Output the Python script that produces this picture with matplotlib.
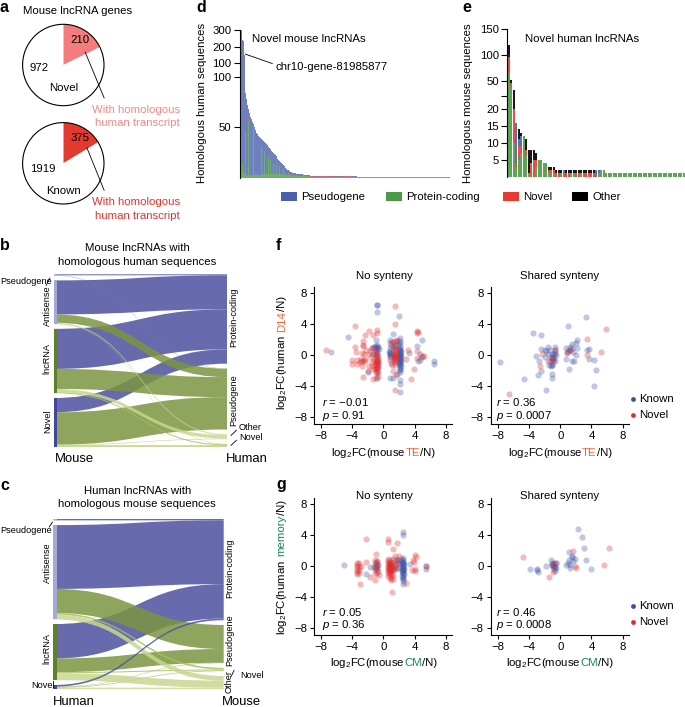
#! python3
# plot.py - lncRNA homology figure, panels a to g

import numpy as np
import matplotlib
matplotlib.use('Agg')
import matplotlib.pyplot as plt
from matplotlib.patches import Circle, PathPatch, Rectangle
from matplotlib.path import Path

plt.rcParams['font.family'] = ['Liberation Sans', 'DejaVu Sans']
plt.rcParams['mathtext.fontset'] = 'custom'
plt.rcParams['mathtext.rm'] = 'Liberation Sans'
plt.rcParams['mathtext.it'] = 'Liberation Sans:italic'
plt.rcParams['mathtext.default'] = 'regular'
plt.rcParams['axes.linewidth'] = 0.8

W, H = 685, 707
FS = 8.2  # main text size

BLUE = '#4a60ad'
GREEN = '#4c9a45'
RED = '#e63b2e'
ORANGE = '#f0653a'
TEAL = '#17875a'

# Panel a
novel_genes = [210, 972]
known_genes = [375, 1919]

# Panel d: bar heights per novel mouse lncRNA
d_total = [300, 300, 240, 236, 150, 84, 78, 72, 68, 64, 60, 58, 55, 53, 50, 47, 44, 43, 41, 40,
           39, 38, 37, 36, 35, 34, 33, 32, 30, 29, 28, 26, 25, 24, 23, 22, 21, 19, 18, 17,
           16, 15, 14, 13, 12, 10, 9, 8, 8, 7, 6, 6, 5, 5, 5, 5, 4, 4, 4, 4,
           4, 4, 4, 3, 3, 3, 3, 3, 3, 3] + [2] * 47 + [1] * 93
d_protein = [20, 8, 14, 5, 5, 45, 3, 3, 55, 3, 3, 3, 3, 50, 3, 4, 3, 3, 3, 3,
             3, 30, 4, 4, 26, 4, 4, 4, 20, 4, 18, 4, 4, 14, 4, 4, 13, 4, 4, 12,
             4, 4, 4, 9, 4, 4, 3, 3, 5, 3, 3, 3, 2, 2, 3, 2, 2, 3, 2, 2,
             2, 2, 2, 1, 2, 1, 2, 1, 2, 1] + [1] * 47 + [1] * 93
d_novel = [0, 0, 0, 0, 0, 0, 0, 0, 3, 0, 0, 0, 0, 0, 0, 0, 0, 0, 0, 0,
           0, 0, 0, 0, 0, 1, 0, 0, 0, 0, 0, 0, 1, 0, 0, 0, 0, 0, 0, 0,
           0, 0, 0, 0, 0, 0, 0, 0, 0, 0, 1, 0, 0, 1, 0, 0, 1, 0, 0, 0,
           1, 0, 1, 1, 0, 1, 0, 1, 0, 1,
           1, 0, 1, 1, 0, 1, 0, 0, 1, 0, 1, 1, 0, 0, 1, 0, 1, 1, 0, 0, 1, 0, 0, 1,
           1, 0, 0, 1, 0, 0, 1, 1, 0, 0, 1, 0, 1, 1, 0, 1, 1, 0, 0, 0, 0, 0, 0] + [0] * 93
d_other = [280] + [0] * 209

# Panel e: bar segments per novel human lncRNA
e_protein = [65, 38, 10, 3, 5, 7, 12, 6, 1, 0, 0, 3, 5, 5, 4, 4, 1, 1, 1,
             0, 0, 1, 0, 0, 0, 1, 1, 0, 0, 1, 0, 0, 0, 0, 0, 0, 1, 2, 2] + [1] * 32
e_novel = [30, 7, 10, 1, 4, 2, 0, 2, 0, 4, 5, 2, 0, 0, 0, 0, 1, 1, 1,
           1, 1, 0, 1, 1, 1, 0, 0, 1, 1, 0, 1, 1, 1, 1, 1, 0, 0, 0, 0] + [0] * 32
e_pseudo = [0, 0, 0, 12, 2, 3, 0, 0, 0, 0, 0, 0, 0, 0, 0, 0, 0, 0, 0,
            0, 0, 0, 1, 0, 0, 0, 0, 0, 0, 0, 0, 0, 0, 0, 0, 2, 1, 0, 0] + [0] * 32
e_other = [23, 7, 11, 0, 3, 1, 0, 3, 7, 4, 3, 2, 0, 0, 0, 0, 1, 1, 1,
           1, 1, 1, 0, 1, 1, 1, 1, 1, 1, 1, 1, 1, 1, 1, 1, 0, 0, 0, 0] + [0] * 32

# Panels b and c: flow sizes, rows are source groups and columns target groups
b_sources = ['Pseudogene', 'Antisense', 'lncRNA', 'Novel']
b_targets = ['Protein-coding', 'Pseudogene', 'Other', 'Novel']
b_flows = [[3, 1, 0, 0],
           [102, 25, 3, 1],
           [120, 60, 10, 3],
           [43, 97, 2, 4]]
c_sources = ['Pseudogene', 'Antisense', 'lncRNA', 'Novel']
c_targets = ['Protein-coding', 'Pseudogene', 'Novel', 'Other']
c_flows = [[4, 0, 0, 0],
           [191, 72, 5, 14],
           [103, 41, 3, 21],
           [5, 1, 2, 4]]

# Panel f, no synteny
f_ns_known = np.array([
    [-0.8, 6.4], [-0.8, 6.4], [-0.8, 5.6], [2.0, 5.0], [-4.6, 2.3], [-6.7, 0.4], [6.5, -0.7], [6.5, -1.1],
    [4.9, 2.0], [4.3, 1.2], [4.7, 0.1], [4.7, -0.6], [1.3, 2.7], [2.1, 2.2], [2.1, 1.8], [0.8, 1.9],
    [1.1, 1.7], [-0.9, 1.9], [-0.8, 1.3], [-0.8, 1.1], [-0.9, 0.9], [-0.7, 1.0], [-1.2, 1.0], [-1.5, 0.9],
    [-1.0, -2.9], [-2.0, -2.2], [0.9, -2.9], [1.3, -2.9], [2.1, -3.2], [2.1, -3.7], [2.1, -4.7], [1.7, -2.4],
    [3.3, 0.3], [2.1, 1.5], [2.1, 1.2], [2.1, 0.9], [2.1, 0.7], [2.1, 0.5], [2.1, 0.3], [2.1, 0.1],
    [2.1, -0.1], [2.1, -0.3], [2.1, -0.5], [2.1, -0.7], [2.1, -0.9], [2.1, -1.1], [2.1, -1.3], [2.1, -1.6],
    [2.1, -1.9], [2.1, -2.2], [2.2, 0.4], [2.2, -0.2], [2.2, -0.8], [2.0, 0.2], [2.0, -0.4], [2.0, -1.0],
    [2.15, 0.6], [2.15, 0.0], [2.15, -0.6], [2.05, 0.8], [2.05, -0.2], [2.05, -1.2], [2.1, -1.8], [2.2, -1.4],
    [0.8, 0.5], [0.8, 0.3], [0.8, 0.1], [0.8, -0.1], [0.7, 0.4], [1.0, 0.2], [0.9, -0.3], [1.2, 1.0],
    [1.5, 1.2], [1.0, 1.3], [1.4, -0.5], [1.1, -1.3], [-0.8, 0.6], [-0.8, 0.3], [-0.8, 0.0], [-0.8, -0.4],
    [-0.8, -0.9], [-0.8, -1.5], [-1.0, 0.4], [-1.3, 0.2], [-0.7, -2.2], [-0.6, 0.8], [-1.1, 1.2], [4.4, -0.7],
    [5.0, -0.2], [1.7, 1.8], [1.9, 1.4], [0.9, 0.9]])
f_ns_novel = np.array([
    [-7.4, 0.6], [-3.7, 3.8], [-2.4, 2.6], [-1.9, 3.05], [-0.85, 3.2], [-0.85, 2.85], [1.55, 6.35], [1.55, 4.0],
    [4.35, 3.05], [4.35, 2.85], [-3.7, 1.0], [-2.65, 1.2], [-2.65, 1.35], [-2.65, 1.85], [3.6, -3.1], [3.9, -1.75],
    [1.55, -4.45], [-2.65, -2.85], [-1.3, -3.05], [-0.8, -2.9], [3.2, 0.7], [2.85, -0.45], [4.35, 0.5], [4.3, -0.4],
    [4.9, -0.1], [5.25, -0.1], [-4.0, -0.6], [-3.4, -0.6], [-4.0, -1.1], [-3.4, -1.1], [-3.5, 0.4], [-2.7, -0.7],
    [-2.35, -0.7], [-2.7, -1.4], [-2.0, -2.1], [-2.6, -0.8], [-2.4, -0.5], [-2.7, 0.3], [-2.2, 0.7], [-1.9, 0.2],
    [-1.7, 0.5], [-1.6, -0.3], [-1.5, -0.9], [-1.4, -1.4], [-1.3, -1.8], [-1.2, 0.1], [-1.2, -0.6], [-1.1, -1.1],
    [-1.1, -1.6], [-1.0, -2.3], [-1.0, 0.7], [-0.9, 0.2], [-0.9, -0.3], [-0.9, -0.8], [-0.9, -1.3], [-0.8, -1.8],
    [-0.8, -2.2], [-0.7, -0.1], [-0.7, -0.6], [-0.7, -1.0], [-0.7, -1.5], [-0.7, -2.7], [-1.5, 0.9], [-1.9, -1.4],
    [-0.85, -0.5], [-0.85, -1.0], [-0.85, -1.6], [-0.75, -1.3], [-0.75, -0.8], [-1.0, -0.9], [-1.0, -1.9],
    [1.5, 1.8], [1.5, 1.3], [1.5, 0.9], [1.5, 0.6], [1.5, 0.3], [1.5, 0.0], [1.5, -0.3], [1.5, -0.6],
    [1.5, -0.9], [1.5, -1.3], [1.6, 0.8], [1.6, 0.2], [1.6, -0.4], [1.4, 0.5], [1.4, -0.1], [1.4, -0.7],
    [1.55, -0.1], [1.55, -0.5], [1.45, 0.1], [1.45, -0.3], [1.2, 1.7], [1.3, -2.1], [1.6, -2.5], [0.9, 1.5],
    [1.0, -1.0], [1.8, 1.9], [4.4, 3.0], [0.8, -0.6], [-3.0, -0.9], [-2.9, -0.5], [-1.3, 2.6], [-2.5, 0.1]])

# Panel f, shared synteny
f_ss_known = np.array([
    [-7.7, -0.9], [-4.6, -3.1], [-3.5, 2.8], [-2.5, 2.6], [-2.8, -2.5], [-2.5, -2.0], [-2.7, -0.8], [-3.1, -0.1],
    [-2.4, 0.8], [-1.8, -4.5], [-1.1, -2.4], [-1.0, -3.0], [-1.45, -1.3], [-1.1, -1.3], [-1.2, -1.4], [-2.0, 0.6],
    [-1.8, 0.5], [-1.6, 1.0], [-1.5, 0.2], [-1.3, 0.6], [-1.2, -0.2], [-1.1, 0.1], [-1.0, -0.5], [-0.9, -0.1],
    [-0.8, 0.2], [-0.7, 1.0], [-0.7, 0.7], [-0.7, -0.7], [-0.6, 0.0], [-2.0, -0.2], [-1.3, -0.8], [-0.9, -0.8],
    [1.0, 3.8], [3.3, 4.9], [2.2, 1.9], [2.0, 1.5], [1.5, 1.4], [2.2, 0.9], [1.3, 1.0], [0.8, 0.9],
    [1.0, 0.5], [1.6, 0.4], [2.0, 0.0], [0.7, -0.55], [1.5, -0.7], [1.75, -0.7], [1.15, -1.75], [3.4, 0.7],
    [3.65, 0.8], [3.65, -0.5], [4.3, -0.65], [4.6, -1.9], [4.3, -4.0], [0.9, 0.3], [1.2, 0.7], [1.5, 0.9],
    [-1.0, -1.3], [-0.8, -0.4], [-0.7, 0.3]])
f_ss_novel = np.array([
    [-6.55, -5.0], [5.8, 3.3], [3.45, 2.1], [5.2, 0.35], [3.4, 0.0], [-2.65, -1.35], [-2.3, 0.1], [-1.5, -0.8],
    [-0.7, 0.65], [-1.0, -0.4], [0.9, 0.4], [1.2, 0.65], [-0.9, -0.6]])

# Panel g, no synteny
g_ns_known = np.array([
    [-5.1, 0.15], [2.5, 4.3], [2.5, 4.0], [-2.25, -1.0], [3.4, 0.25], [5.45, 0.0], [5.45, -0.45], [-1.7, -0.2],
    [-0.65, 0.15], [-0.65, -0.7], [1.7, 0.8], [1.3, 0.9], [1.85, -0.25], [-1.0, 0.4], [-1.0, 0.0], [-1.0, -0.4],
    [-1.2, -0.1], [2.5, 1.0], [2.5, 0.7], [2.5, 0.5], [2.5, 0.3], [2.5, 0.1], [2.5, -0.1], [2.5, -0.3],
    [2.5, -0.5], [2.5, -0.7], [2.5, -0.9], [2.5, -1.1], [2.5, -1.4], [2.5, -1.7], [2.5, -2.0], [2.5, -2.3],
    [2.6, 0.2], [2.6, -0.4], [2.4, 0.4], [2.4, -0.2], [2.4, -0.8], [2.6, -1.0], [2.55, 0.0], [2.55, -0.6],
    [2.45, 0.6], [2.45, 0.2], [2.45, -0.5], [2.45, -1.3], [2.55, -1.6], [1.9, 0.3], [1.6, 0.1],
    [1.5, -0.4], [0.9, 0.2], [1.1, -0.3], [-0.8, 0.5], [-0.8, -0.2], [1.9, 0.8], [2.3, 0.9]])
g_ns_novel = np.array([
    [-2.2, 3.5], [0.65, 3.45], [0.65, 3.1], [1.8, 2.9], [1.3, 2.2], [-1.0, 1.5], [-2.2, 0.45], [-3.05, -2.3],
    [-1.65, -1.45], [-1.05, -1.8], [1.1, -3.4], [2.85, -2.15], [4.05, 1.4], [4.15, 1.1], [3.8, 0.8], [3.95, 0.55],
    [4.05, -0.4], [4.05, -0.7], [3.7, -0.5], [5.45, 0.0], [-3.4, 0.4], [-3.4, 0.1], [-3.4, -0.2], [-3.4, -0.5],
    [-3.4, -0.8], [-3.4, -1.0], [-3.1, 0.3], [-3.1, -0.1], [-3.1, -0.5], [-3.1, -0.9], [-1.1, 0.7], [-1.1, 0.3],
    [-1.1, -0.1], [-1.1, -0.5], [-1.1, -1.1], [-0.8, 0.6], [-0.8, 0.1], [-0.8, -0.4], [-0.8, -0.9], [-0.6, -1.2],
    [0.6, 0.9], [0.6, 0.6], [0.6, 0.3], [0.6, 0.0], [0.6, -0.3], [0.6, -0.6], [0.6, -0.9], [0.6, -1.3],
    [0.8, 0.7], [0.8, 0.4], [0.8, 0.1], [0.8, -0.2], [0.8, -0.5], [0.8, -0.8], [0.8, -1.1], [0.8, -1.6],
    [1.0, 0.5], [1.0, 0.2], [1.0, -0.1], [1.0, -0.4], [1.0, -0.7], [1.0, -1.0], [1.0, -1.4], [1.0, -1.8],
    [0.9, 0.0], [0.9, -0.3], [0.9, -0.6], [0.7, 0.2], [0.7, -0.2], [0.7, -0.7], [1.1, 0.1], [1.1, -0.5],
    [1.2, 0.3], [1.2, 0.0], [1.2, -0.3], [1.2, -0.6], [1.2, -1.2], [1.2, -1.7], [1.5, 1.2], [1.7, 0.3],
    [1.7, -0.3], [2.0, 1.2], [1.6, 0.7], [-2.9, 0.0]])

# Panel g, shared synteny
g_ss_known = np.array([
    [2.25, 4.75], [2.8, 3.75], [3.0, 2.35], [1.1, 1.8], [3.25, 0.7], [3.9, -0.4], [-3.85, -0.4], [-2.95, -0.4],
    [-2.95, -0.55], [-2.85, -0.75], [-1.85, 0.0], [-1.15, 0.75], [-1.0, 0.4], [-0.9, 0.2], [-0.8, 0.0], [-0.7, -0.2],
    [-0.8, -0.4], [-0.7, -0.7], [-1.1, 0.1], [-0.9, -0.2], [-0.6, 0.3], [-0.6, -0.3], [1.45, 1.3], [1.5, 1.15],
    [1.95, 0.9], [1.65, 0.6], [1.1, 0.7], [1.0, 0.4], [0.7, 0.15], [1.3, 0.15], [1.25, -0.25], [-0.8, 0.3]])
g_ss_novel = np.array([
    [-4.75, 1.1], [6.2, 2.35], [5.55, 0.1], [1.6, 1.95], [-1.45, -1.5], [-0.95, -0.75], [-0.6, 0.3], [-1.1, 0.15],
    [1.85, 0.0], [2.05, -0.25]])

fig = plt.figure(figsize=(W / 100, H / 100), dpi=100)


def make_ax(left, top, right, bottom):
    # Axes from positions given in pixels from the top left corner
    return fig.add_axes([left / W, 1 - bottom / H, (right - left) / W, (bottom - top) / H])


# Overlay for free text, in pixels from the top left corner
over = fig.add_axes([0, 0, 1, 1], zorder=10)
over.set_xlim(0, W)
over.set_ylim(H, 0)
over.axis('off')
over.patch.set_alpha(0)
renderer = fig.canvas.get_renderer()


def label(x, y, s, size=FS, color='black', ha='left', rotation=0, weight='normal'):
    return over.text(x, y, s, fontsize=size, color=color, ha=ha, va='center',
                     rotation=rotation, rotation_mode='anchor', fontweight=weight)


def line(x0, y0, x1, y1):
    over.plot([x0, x1], [y0, y1], color='black', lw=0.6, solid_capstyle='butt')


def multi_label(x, y, parts, rotation=0):
    # Text in several colours, centred on x, y. Trailing spaces of the first part are
    # measured differently when turned, so the space after it is corrected by hand
    first_gap = 2.4 if rotation == 90 else -0.6
    widths = []
    for s, c in parts:
        t = over.text(0, 0, s, fontsize=FS)
        widths.append(t.get_window_extent(renderer).width)
        t.remove()
    pos = -(sum(widths) + first_gap) / 2
    for k, ((s, c), w) in enumerate(zip(parts, widths)):
        if rotation == 90:
            over.text(x + 3, y - pos, s, fontsize=FS, color=c, rotation=90, ha='left', va='baseline',
                      rotation_mode='anchor')
        else:
            over.text(x + pos, y, s, fontsize=FS, color=c, ha='left', va='baseline')
        pos += w + (first_gap if k == 0 else 0)


# Panel a
def draw_pie(cx, cy, r, values, color):
    ax = make_ax(cx - r, cy - r, cx + r, cy + r)
    ax.pie(values, colors=[color, 'white'], startangle=90, counterclock=False, radius=1)
    ax.set_xlim(-1, 1)
    ax.set_ylim(-1, 1)
    ax.add_patch(Circle((0, 0), 1, fill=False, ec='black', lw=0.8, clip_on=False))


draw_pie(63.3, 65, 40.7, novel_genes, '#f47c7c')
draw_pie(63.3, 163.3, 40.7, known_genes, '#e23a2e')

label(22.7, 10.7, 'Mouse lncRNA genes')
label(80, 40, str(novel_genes[0]), ha='center')
label(39, 67.7, str(novel_genes[1]), ha='center')
label(63.3, 87.7, 'Novel', ha='center')
label(80, 138.3, str(known_genes[0]), ha='center')
label(42.7, 169.3, str(known_genes[1]), ha='center')
label(63.3, 191, 'Known', ha='center')
line(85, 51.7, 104.3, 98.3)
line(86.7, 147.3, 104.3, 190.7)
label(180, 110, 'With homologous', color='#f28a85', ha='right')
label(180, 123.3, 'human transcript', color='#f28a85', ha='right')
label(180, 202.3, 'With homologous', color='#e5332a', ha='right')
label(180, 216, 'human transcript', color='#e5332a', ha='right')


# Panels b and c
def draw_sankey(ax, flows, node_colors, flow_colors, on_top=None):
    flows = np.array(flows, dtype=float)
    n_rows, n_cols = flows.shape
    gap = 14.3
    total = flows.sum() + gap * (n_rows - 1)
    total_r = flows.sum() + gap * (n_cols - 1)
    ax.set_xlim(0, 1)
    ax.set_ylim(max(total, total_r), 0)
    ax.axis('off')

    # Node tops on each side
    left_tops = np.concatenate([[0], np.cumsum(flows.sum(axis=1) + gap)[:-1]])
    right_tops = np.concatenate([[0], np.cumsum(flows.sum(axis=0) + gap)[:-1]])
    left_start = np.array([[left_tops[i] + flows[i, :j].sum() for j in range(n_cols)] for i in range(n_rows)])
    right_start = np.array([[right_tops[j] + flows[:i, j].sum() for j in range(n_cols)] for i in range(n_rows)])

    def ribbon(i, j, z):
        h = flows[i, j]
        if h == 0:
            return
        y0, y1 = left_start[i, j], right_start[i, j]
        verts = [(0, y0), (0.5, y0), (0.5, y1), (1, y1), (1, y1 + h),
                 (0.5, y1 + h), (0.5, y0 + h), (0, y0 + h), (0, y0)]
        codes = [Path.MOVETO, Path.CURVE4, Path.CURVE4, Path.CURVE4, Path.LINETO,
                 Path.CURVE4, Path.CURVE4, Path.CURVE4, Path.CLOSEPOLY]
        ax.add_patch(PathPatch(Path(verts, codes), fc=flow_colors[j], ec='none', alpha=0.85, zorder=z))

    for j in range(n_cols):
        for i in range(n_rows):
            ribbon(i, j, 4 if on_top == (i, j) else 2)
    for i in range(n_rows):
        ax.add_patch(Rectangle((0, left_tops[i]), 0.02, flows[i].sum(), fc=node_colors[i], ec='none', zorder=5))


sankey_blue = '#4c51a0'
sankey_olive = '#7b9441'
sankey_pale = '#c8d68f'
sankey_lime = '#a5c253'
node_colors = ['#b3b3dd', '#a8a8d8', '#5e7f2c', '#44459c']

ax_b = make_ax(54, 274.3, 227, 446.7)
draw_sankey(ax_b, b_flows, node_colors, [sankey_blue, sankey_olive, sankey_pale, sankey_lime])
ax_c = make_ax(53.3, 519, 223.7, 689)
draw_sankey(ax_c, c_flows, node_colors, [sankey_blue, sankey_olive, sankey_lime, sankey_pale], on_top=(3, 0))

SMALL = 6.6
label(137.3, 248.3, 'Mouse lncRNAs with', ha='center')
label(137.3, 261.7, 'homologous human sequences', ha='center')
label(0, 282, b_sources[0], size=SMALL)
line(46, 285.7, 50, 277.7)
label(47.3, 306, b_sources[1], size=SMALL, ha='center', rotation=90)
label(47.3, 358, b_sources[2], size=SMALL, ha='center', rotation=90)
label(47.3, 420.7, b_sources[3], size=SMALL, ha='center', rotation=90)
label(233.3, 317.7, b_targets[0], size=SMALL, ha='center', rotation=90)
label(233.3, 400, b_targets[1], size=SMALL, ha='center', rotation=90)
label(239, 427, b_targets[2], size=SMALL)
label(239, 437, b_targets[3], size=SMALL)
line(230.7, 435.7, 236.7, 430)
line(230.7, 445.7, 236.7, 440)
label(55, 459, 'Mouse', size=9.4)
label(225.7, 459, 'Human', size=9.4)

label(137.3, 490.7, 'Human lncRNAs with', ha='center')
label(137.3, 504.3, 'homologous mouse sequences', ha='center')
label(0, 530.7, c_sources[0], size=SMALL)
line(49, 527.3, 52.7, 521.7)
label(47, 562.3, c_sources[1], size=SMALL, ha='center', rotation=90)
label(47, 648, c_sources[2], size=SMALL, ha='center', rotation=90)
label(31.7, 685.7, c_sources[3], size=SMALL)
label(229.3, 568.3, c_targets[0], size=SMALL, ha='center', rotation=90)
label(229.3, 640, c_targets[1], size=SMALL, ha='center', rotation=90)
label(229.3, 681.7, c_targets[3], size=SMALL, ha='center', rotation=90)
label(240.7, 675.7, c_targets[2], size=SMALL)
line(231, 676.7, 234.3, 670)
label(53, 702, 'Human', size=9.4)
label(222, 702, 'Mouse', size=9.4)


# Panels d and e: stacked bars on broken y scales
def broken_scale(ax, points, shown):
    def forward(v):
        return np.interp(v, points, shown)

    def inverse(v):
        return np.interp(v, shown, points)

    ax.set_yscale('function', functions=(forward, inverse))


def stack_bars(ax, segments, colors, width, alpha=1.0):
    n = len(segments[0])
    xs = np.arange(n) + 0.5
    bottom = np.zeros(n)
    for values, color in zip(segments, colors):
        values = np.array(values, dtype=float)
        ax.bar(xs, values, width=width, bottom=bottom, color=color, linewidth=0, alpha=alpha)
        bottom += values
    ax.set_xlim(0, n)
    for side in ['top', 'right', 'bottom']:
        ax.spines[side].set_visible(False)
    ax.set_xticks([])
    ax.minorticks_off()
    ax.tick_params(axis='y', labelsize=FS, length=4.5, width=0.8, pad=1.5, which='major')
    ax.tick_params(axis='y', which='minor', length=0)


ax_d = make_ax(240, 30, 450, 177.7)
broken_scale(ax_d, [0, 100, 100.001, 300], [0, 101, 114.4, 147.7])
d_pseudo = np.array(d_total) - np.array(d_protein) - np.array(d_novel) - np.array(d_other)
stack_bars(ax_d, [d_protein, d_novel, d_pseudo, d_other], [GREEN, RED, BLUE, '#333333'], 0.9, alpha=0.8)
ax_d.set_ylim(0, 300)
ax_d.set_yticks([50, 100, 100.001, 200, 300], ['50', '100', '100', '200', '300'])
label(201.7, 103, 'Homologous human sequences', ha='center', rotation=90)
label(252, 39.3, 'Novel mouse lncRNAs')
label(276, 66.7, 'chr10-gene-81985877')
line(245, 54, 272.7, 63.7)

ax_e = make_ax(507.3, 29, 685, 176.7)
broken_scale(ax_e, [0, 20, 20.001, 150], [0, 67.7, 80.7, 147.7])
stack_bars(ax_e, [e_protein, e_novel, e_pseudo, e_other], [GREEN, RED, BLUE, 'black'], 0.8, alpha=0.9)
ax_e.set_ylim(0, 150)
ax_e.set_yticks([5, 10, 15, 20, 20.001, 50, 100, 150], ['5', '10', '15', '20', '', '50', '100', '150'])
label(468.3, 103, 'Homologous mouse sequences', ha='center', rotation=90)
label(524.7, 39.3, 'Novel human lncRNAs')

# Bar legend
for x0, color, name in [(280.7, BLUE, 'Pseudogene'), (386, GREEN, 'Protein-coding'),
                        (502.7, RED, 'Novel'), (572.3, 'black', 'Other')]:
    over.add_patch(Rectangle((x0, 192), 16, 9, fc=color, ec='none'))
    label(x0 + 20.3, 196.5, name)


# Panels f and g
def draw_scatter(box, known, novel, ylim):
    ax = make_ax(*box)
    ax.scatter(known[:, 0], known[:, 1], s=20, color='#3f55a8', alpha=0.33, linewidths=0, clip_on=False)
    ax.scatter(novel[:, 0], novel[:, 1], s=20, color='#e02f2f', alpha=0.33, linewidths=0, clip_on=False)
    ax.set_xlim(-8.9, 8.77)
    ax.set_ylim(*ylim)
    ax.set_xticks([-8, -4, 0, 4, 8])
    ax.set_yticks([-8, -4, 0, 4, 8])
    ax.tick_params(labelsize=FS, length=3, width=0.8, pad=2)
    ax.spines['top'].set_visible(False)
    ax.spines['right'].set_visible(False)
    ax.patch.set_alpha(0)
    return ax


YLIM = (-8.85, 8.75)
draw_scatter((314, 287, 451.7, 424), f_ns_known, f_ns_novel, YLIM)
draw_scatter((490.7, 287, 628.7, 424), f_ss_known, f_ss_novel, YLIM)
draw_scatter((314, 497.7, 451.7, 634.7), g_ns_known, g_ns_novel, YLIM)
draw_scatter((490.7, 497.7, 628.7, 634.7), g_ss_known, g_ss_novel, YLIM)

label(384.3, 276.3, 'No synteny', ha='center')
label(559.7, 276.3, 'Shared synteny', ha='center')
label(384.3, 496, 'No synteny', ha='center')
label(559.7, 496, 'Shared synteny', ha='center')

label(321.7, 402.3, r'$\mathit{r}$ = −0.01')
label(321.7, 415.7, r'$\mathit{p}$ = 0.91')
label(496, 402.3, r'$\mathit{r}$ = 0.36')
label(496, 415.7, r'$\mathit{p}$ = 0.0007')
label(321.7, 611.7, r'$\mathit{r}$ = 0.05')
label(321.7, 625, r'$\mathit{p}$ = 0.36')
label(496, 611.7, r'$\mathit{r}$ = 0.46')
label(496, 625, r'$\mathit{p}$ = 0.0008')

multi_label(383.3, 456, [('log$_2$FC(mouse ', 'black'), ('TE', ORANGE), ('/N)', 'black')])
multi_label(559.7, 456, [('log$_2$FC(mouse ', 'black'), ('TE', ORANGE), ('/N)', 'black')])
multi_label(383.3, 666, [('log$_2$FC(mouse ', 'black'), ('CM', TEAL), ('/N)', 'black')])
multi_label(559.7, 666, [('log$_2$FC(mouse ', 'black'), ('CM', TEAL), ('/N)', 'black')])
multi_label(281.7, 353.3, [('log$_2$FC(human ', 'black'), ('D14', ORANGE), ('/N)', 'black')], rotation=90)
multi_label(281.7, 567.3, [('log$_2$FC(human ', 'black'), ('memory', TEAL), ('/N)', 'black')], rotation=90)

# Known / novel keys
for y_known, y_novel in [(399.3, 415), (606.3, 622)]:
    over.scatter([633], [y_known], s=12, color='#3a50a5', linewidths=0)
    over.scatter([633], [y_novel], s=12, color='#e02f2f', linewidths=0)
    label(638.7, y_known, 'Known')
    label(638.7, y_novel, 'Novel')

# Panel letters
for x, y, s in [(0, 8, 'a'), (196, 8, 'd'), (462, 8, 'e'), (0, 245, 'b'), (0, 486, 'c'),
                (276, 245, 'f'), (276, 484, 'g')]:
    label(x, y, s, size=11.5, weight='bold')

over.set_xlim(0, W)
over.set_ylim(H, 0)
fig.savefig('out.png', dpi=100)
print("done")
